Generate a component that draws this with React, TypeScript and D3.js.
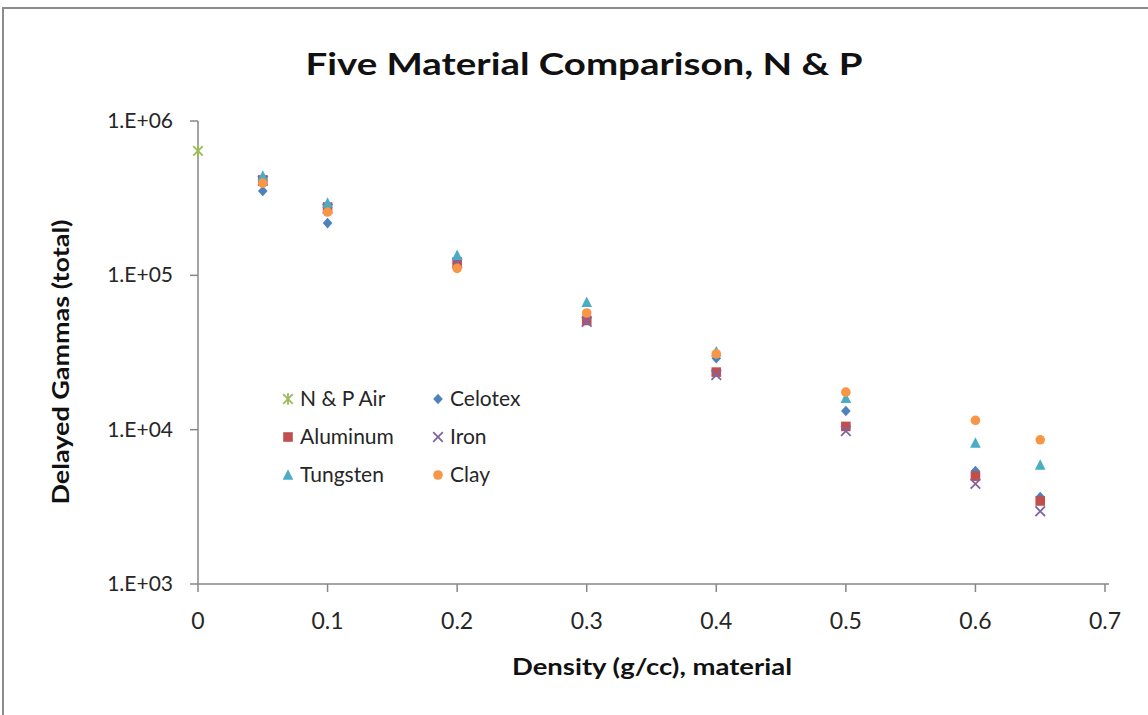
import React from "react";
import * as d3 from "d3";

const densities = [0.05, 0.1, 0.2, 0.3, 0.4, 0.5, 0.6, 0.65];
const airX = [0];
const airY = [640000];
const celotex = [352000, 218000, 120000, 54000, 29000, 13200, 5400, 3660];
const aluminum = [415000, 277000, 122000, 51000, 23600, 10500, 5000, 3450];
const iron = [410000, 270000, 120000, 50000, 22600, 9800, 4450, 2960];
const tungsten = [440000, 294000, 135000, 67000, 32000, 16000, 8200, 5900];
const clay = [396000, 257000, 111000, 57000, 31000, 17500, 11500, 8600];
const xTicks = [0, 0.1, 0.2, 0.3, 0.4, 0.5, 0.6, 0.7];
const yTicks = [1e3, 1e4, 1e5, 1e6];
const yTickLabels = ["1.E+03", "1.E+04", "1.E+05", "1.E+06"];

const FONT = "Lato, 'Open Sans', sans-serif";

type Shape = "star" | "diamond" | "square" | "x" | "triangle" | "circle";

function Marker({ shape, color, x, y }: { shape: Shape; color: string; x: number; y: number }) {
  const s = 4.8;
  switch (shape) {
    case "diamond":
      return <path d={`M${x},${y - s - 0.5}L${x + s},${y}L${x},${y + s + 0.5}L${x - s},${y}Z`} fill={color} />;
    case "square":
      return <rect x={x - s} y={y - s} width={2 * s} height={2 * s} fill={color} />;
    case "triangle":
      return <path d={`M${x},${y - s - 1}L${x + s + 0.5},${y + s}L${x - s - 0.5},${y + s}Z`} fill={color} />;
    case "circle":
      return <circle cx={x} cy={y} r={s} fill={color} />;
    case "x":
      return (
        <path d={`M${x - s},${y - s}L${x + s},${y + s}M${x - s},${y + s}L${x + s},${y - s}`} stroke={color} strokeWidth={1.8} fill="none" />
      );
    case "star":
      return (
        <path
          d={`M${x - s},${y - s}L${x + s},${y + s}M${x - s},${y + s}L${x + s},${y - s}M${x},${y - s - 1}L${x},${y + s + 1}`}
          stroke={color}
          strokeWidth={1.8}
          fill="none"
        />
      );
  }
  return null;
}

export default function App() {
  const x = d3.scaleLinear().domain([0, 0.7]).range([198, 1105]);
  const y = d3.scaleLog().domain([1e3, 1e6]).range([584, 121]);

  const series: { name: string; shape: Shape; color: string; xs: number[]; ys: number[] }[] = [
    { name: "N & P Air", shape: "star", color: "#9BBB59", xs: airX, ys: airY },
    { name: "Celotex", shape: "diamond", color: "#4F81BD", xs: densities, ys: celotex },
    { name: "Aluminum", shape: "square", color: "#C0504D", xs: densities, ys: aluminum },
    { name: "Iron", shape: "x", color: "#8064A2", xs: densities, ys: iron },
    { name: "Tungsten", shape: "triangle", color: "#4BACC6", xs: densities, ys: tungsten },
    { name: "Clay", shape: "circle", color: "#F79646", xs: densities, ys: clay },
  ];

  const legendPos = [
    [288, 399],
    [438, 399],
    [288, 437],
    [438, 437],
    [288, 475],
    [438, 475],
  ];

  const axisColor = "#878787";
  const textColor = "#262626";

  return (
    <svg width={1148} height={715} style={{ position: "absolute", left: 0, top: 0, background: "#fff" }}>
      <rect x={3} y={8} width={1160} height={720} fill="#fff" stroke="#8c8c8c" strokeWidth={2} />
      <text x={584} y={75} textAnchor="middle" fontFamily={FONT} fontWeight="bold" fontSize={31} fill="#111" textLength={557} lengthAdjust="spacingAndGlyphs">
        Five Material Comparison, N &amp; P
      </text>

      {/* y axis */}
      <line x1={x(0)} x2={x(0)} y1={y(1e6)} y2={y(1e3)} stroke={axisColor} strokeWidth={1.5} />
      {yTicks.map((t, i) => (
        <g key={t}>
          <line x1={x(0) - 8} x2={x(0)} y1={y(t)} y2={y(t)} stroke={axisColor} strokeWidth={1.5} />
          <text x={173} y={y(t) + 7} textAnchor="end" fontFamily={FONT} fontSize={21} fill={textColor}>
            {yTickLabels[i]}
          </text>
        </g>
      ))}

      {/* x axis */}
      <line x1={x(0)} x2={x(0.7) + 4} y1={y(1e3)} y2={y(1e3)} stroke={axisColor} strokeWidth={1.5} />
      {xTicks.map((t) => (
        <g key={t}>
          <line x1={x(t)} x2={x(t)} y1={y(1e3)} y2={y(1e3) + 8} stroke={axisColor} strokeWidth={1.5} />
          <text x={x(t)} y={629} textAnchor="middle" fontFamily={FONT} fontSize={23} fill={textColor}>
            {String(t)}
          </text>
        </g>
      ))}

      <text x={652} y={675} textAnchor="middle" fontFamily={FONT} fontWeight="bold" fontSize={22} fill="#111" textLength={280} lengthAdjust="spacingAndGlyphs">
        Density (g/cc), material
      </text>
      <text
        transform={`translate(69,${362}) rotate(-90)`}
        textAnchor="middle"
        fontFamily={FONT}
        fontWeight="bold"
        fontSize={22}
        fill="#111"
        textLength={285}
        lengthAdjust="spacingAndGlyphs"
      >
        Delayed Gammas (total)
      </text>

      {series.map((s) =>
        s.xs.map((xv, i) => <Marker key={s.name + i} shape={s.shape} color={s.color} x={x(xv)} y={y(s.ys[i])} />)
      )}

      {series.map((s, i) => (
        <g key={"lg" + s.name}>
          <Marker shape={s.shape} color={s.color} x={legendPos[i][0]} y={legendPos[i][1]} />
          <text x={legendPos[i][0] + 12} y={legendPos[i][1] + 7} fontFamily={FONT} fontSize={21} fill={textColor}>
            {s.name}
          </text>
        </g>
      ))}
    </svg>
  );
}
